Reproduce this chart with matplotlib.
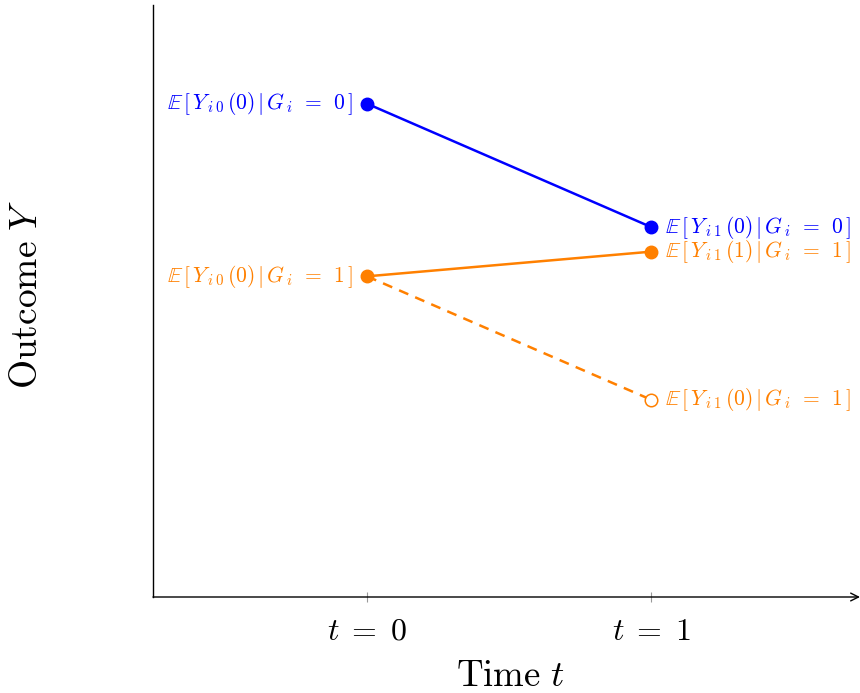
import matplotlib

matplotlib.use("Agg")

import matplotlib.pyplot as plt

plt.rcParams["mathtext.fontset"] = "cm"
plt.rcParams["font.family"] = ["cmr10", "DejaVu Serif"]
plt.rcParams["axes.unicode_minus"] = False

BLUE = "#0000ff"
ORANGE = "#ff8000"

# data
times = [0, 1]
tick_labels = [r"$t\;=\;0$", r"$t\;=\;1$"]
control = [5.0, 3.75]            # G_i = 0
treated = [3.25, 3.5]            # G_i = 1, observed
counterfactual = [3.25, 2.0]     # G_i = 1, untreated potential outcome

control_labels = [r"$\mathbb{E}\,[\,Y_{\,i\,0}\,(0)\,|\,G_{\,i}\;\,=\;\,0\,]$",
                  r"$\mathbb{E}\,[\,Y_{\,i\,1}\,(0)\,|\,G_{\,i}\;\,=\;\,0\,]$"]
treated_labels = [r"$\mathbb{E}\,[\,Y_{\,i\,0}\,(0)\,|\,G_{\,i}\;\,=\;\,1\,]$",
                  r"$\mathbb{E}\,[\,Y_{\,i\,1}\,(1)\,|\,G_{\,i}\;\,=\;\,1\,]$"]
counterfactual_label = r"$\mathbb{E}\,[\,Y_{\,i\,1}\,(0)\,|\,G_{\,i}\;\,=\;\,1\,]$"


def main():
    fig = plt.figure(figsize=(8.6, 6.93), dpi=100)
    ax = fig.add_axes([153 / 860, 96 / 693, 707 / 860, 592 / 693])

    ax.plot(times, control, color=BLUE, lw=1.8, marker="o", ms=9, zorder=3)
    ax.plot(times, treated, color=ORANGE, lw=1.8, marker="o", ms=9, zorder=3)
    ax.plot(times, counterfactual, color=ORANGE, lw=1.8, ls=(0, (4, 3)), zorder=2)
    ax.plot(times[1], counterfactual[1], "o", ms=9, mfc="white", mec=ORANGE,
            mew=1.1, zorder=4)

    lab_kw = dict(fontsize=15.5, va="center", textcoords="offset points")
    ax.annotate(control_labels[0], (times[0], control[0]), xytext=(-10, 0),
                ha="right", color=BLUE, **lab_kw)
    ax.annotate(control_labels[1], (times[1], control[1]), xytext=(10, 0),
                ha="left", color=BLUE, **lab_kw)
    ax.annotate(treated_labels[0], (times[0], treated[0]), xytext=(-10, 0),
                ha="right", color=ORANGE, **lab_kw)
    ax.annotate(treated_labels[1], (times[1], treated[1]), xytext=(10, 0),
                ha="left", color=ORANGE, **lab_kw)
    ax.annotate(counterfactual_label, (times[1], counterfactual[1]),
                xytext=(10, 0), ha="left", color=ORANGE, **lab_kw)

    ax.set_xlim(-214 / 284, 493 / 284)
    ax.set_ylim(0, 6)
    ax.set_xticks(times)
    ax.set_xticklabels(tick_labels, fontsize=23)
    ax.set_yticks([])
    ax.tick_params(axis="x", direction="inout", length=7, width=0.8,
                   color="#999999", pad=12)

    for side in ["top", "right"]:
        ax.spines[side].set_visible(False)
    ax.spines["bottom"].set_visible(False)
    ax.spines["left"].set_linewidth(1.0)

    # x axis drawn as arrow
    ax.annotate("", xy=(1.0, 0), xytext=(0, 0), xycoords="axes fraction",
                textcoords="axes fraction",
                arrowprops=dict(arrowstyle="->", color="black", lw=1.0,
                                mutation_scale=14, shrinkA=0, shrinkB=0))

    ax.set_xlabel(r"$\mathrm{Time}\ t$", fontsize=26.5, va="center")
    ax.xaxis.set_label_coords((510 - 153) / 707, -(676 - 597) / 592)
    ax.set_ylabel(r"$\mathrm{Outcome}\ Y$", fontsize=27, va="center")
    ax.yaxis.set_label_coords(-(153 - 27) / 707, (597 - 294) / 592)

    fig.savefig("out.png", dpi=100)


if __name__ == "__main__":
    main()
